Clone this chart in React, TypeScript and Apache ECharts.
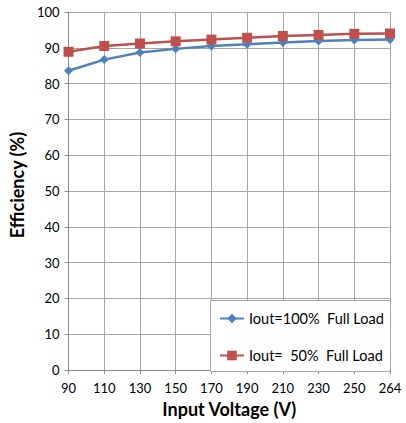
import React, { useEffect, useRef } from "react";
import * as echarts from "echarts";

const categories = ["90", "110", "130", "150", "170", "190", "210", "230", "250", "264"];
const fullLoad = [83.6, 86.7, 88.7, 89.7, 90.5, 91.0, 91.5, 91.9, 92.2, 92.3];
const halfLoad = [88.9, 90.5, 91.2, 91.8, 92.3, 92.8, 93.3, 93.6, 93.9, 94.0];
const seriesNames = ["Iout=100%  Full Load", "Iout=  50%  Full Load"];

const FONT = "Lato, 'Open Sans', sans-serif";

export default function App() {
  const ref = useRef<HTMLDivElement>(null);
  useEffect(() => {
    if (!ref.current) return;
    const chart = echarts.init(ref.current, undefined, { renderer: "svg" });
    chart.setOption({
      animation: false,
      backgroundColor: "#fff",
      textStyle: { fontFamily: FONT },
      grid: { left: 66, right: 16, top: 12, bottom: 52, containLabel: false },
      graphic: [
        {
          type: "rect",
          left: 210,
          top: 300,
          z: 50,
          shape: { width: 180, height: 71 },
          style: { fill: "#fff", stroke: "#a6a6a6", lineWidth: 1 },
        },
      ],
      legend: {
        orient: "vertical",
        left: 214,
        top: 306,
        z: 60,
        itemWidth: 24,
        itemHeight: 12,
        itemGap: 22,
        textStyle: { fontFamily: FONT, fontSize: 14.5, color: "#000" },
        data: seriesNames,
      },
      xAxis: {
        type: "category",
        data: categories,
        boundaryGap: false,
        name: "Input Voltage (V)",
        nameLocation: "middle",
        nameGap: 30,
        nameTextStyle: { fontFamily: FONT, fontSize: 18, fontWeight: "bold", color: "#000" },
        axisLine: { lineStyle: { color: "#8c8c8c" } },
        axisTick: { show: true, length: 4, lineStyle: { color: "#8c8c8c" } },
        axisLabel: { fontFamily: FONT, fontSize: 13, color: "#000", margin: 11 },
        splitLine: { show: true, lineStyle: { color: "#a6a6a6" } },
      },
      yAxis: {
        type: "value",
        min: 0,
        max: 100,
        interval: 10,
        name: "Efficiency (%)",
        nameLocation: "middle",
        nameGap: 34,
        nameTextStyle: { fontFamily: FONT, fontSize: 18, fontWeight: "bold", color: "#000", padding: [0, 0, 0, 12] },
        axisLine: { show: true, lineStyle: { color: "#8c8c8c" } },
        axisTick: { show: true, length: 4, lineStyle: { color: "#8c8c8c" } },
        axisLabel: { fontFamily: FONT, fontSize: 13, color: "#000", margin: 9 },
        splitLine: { show: true, lineStyle: { color: "#a6a6a6" } },
      },
      series: [
        {
          name: seriesNames[0],
          type: "line",
          data: fullLoad,
          symbol: "diamond",
          symbolSize: 9,
          itemStyle: { color: "#4f81bd" },
          lineStyle: { color: "#4f81bd", width: 2.5 },
        },
        {
          name: seriesNames[1],
          type: "line",
          data: halfLoad,
          symbol: "rect",
          symbolSize: 10,
          itemStyle: { color: "#c0504d" },
          lineStyle: { color: "#c0504d", width: 2.5 },
        },
      ],
    });
    return () => chart.dispose();
  }, []);
  return <div ref={ref} style={{ width: 406, height: 423, position: "absolute", left: 0, top: 0 }} />;
}
